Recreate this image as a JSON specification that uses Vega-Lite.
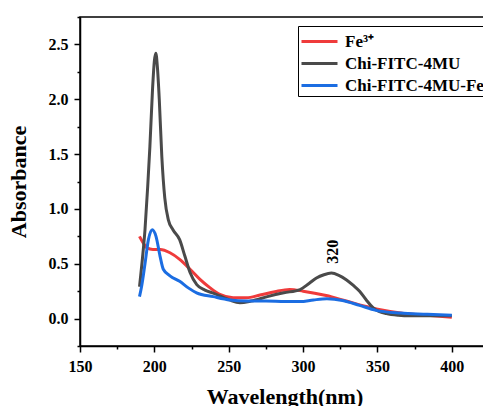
{
  "$schema": "https://vega.github.io/schema/vega-lite/v6.json",
  "width": 409,
  "height": 329,
  "autosize": {"type": "none"},
  "padding": {"left": 80, "top": 17, "right": 0, "bottom": 60},
  "background": "white",
  "config": {
    "view": {"stroke": "black", "strokeWidth": 1.5},
    "font": "Liberation Serif",
    "axis": {
      "labelFont": "Liberation Serif", "labelFontWeight": "bold", "labelFontSize": 16, "labelColor": "black",
      "titleFont": "Liberation Serif", "titleFontWeight": "bold", "titleFontSize": 22, "titleColor": "black",
      "domainColor": "black", "domainWidth": 1.5, "tickColor": "black", "tickWidth": 1.5, "grid": false
    }
  },
  "datasets": {
    "spectra": [
      {"series": "Fe³⁺", "wl": 190, "abs": 0.75},
      {"series": "Fe³⁺", "wl": 192.5, "abs": 0.69},
      {"series": "Fe³⁺", "wl": 195, "abs": 0.645},
      {"series": "Fe³⁺", "wl": 199, "abs": 0.63},
      {"series": "Fe³⁺", "wl": 204, "abs": 0.63},
      {"series": "Fe³⁺", "wl": 210.5, "abs": 0.6},
      {"series": "Fe³⁺", "wl": 217, "abs": 0.54},
      {"series": "Fe³⁺", "wl": 224, "abs": 0.45},
      {"series": "Fe³⁺", "wl": 230.5, "abs": 0.36},
      {"series": "Fe³⁺", "wl": 237.5, "abs": 0.28},
      {"series": "Fe³⁺", "wl": 244, "abs": 0.22},
      {"series": "Fe³⁺", "wl": 253, "abs": 0.19},
      {"series": "Fe³⁺", "wl": 262, "abs": 0.19},
      {"series": "Fe³⁺", "wl": 271, "abs": 0.215},
      {"series": "Fe³⁺", "wl": 281, "abs": 0.245},
      {"series": "Fe³⁺", "wl": 291, "abs": 0.265},
      {"series": "Fe³⁺", "wl": 300, "abs": 0.25},
      {"series": "Fe³⁺", "wl": 315.5, "abs": 0.21},
      {"series": "Fe³⁺", "wl": 329, "abs": 0.16},
      {"series": "Fe³⁺", "wl": 342.5, "abs": 0.11},
      {"series": "Fe³⁺", "wl": 352, "abs": 0.08},
      {"series": "Fe³⁺", "wl": 365.5, "abs": 0.05},
      {"series": "Fe³⁺", "wl": 383.5, "abs": 0.03},
      {"series": "Fe³⁺", "wl": 400, "abs": 0.012},
      {"series": "Chi-FITC-4MU", "wl": 190, "abs": 0.29},
      {"series": "Chi-FITC-4MU", "wl": 192, "abs": 0.55},
      {"series": "Chi-FITC-4MU", "wl": 193.7, "abs": 0.81},
      {"series": "Chi-FITC-4MU", "wl": 195.5, "abs": 1.2},
      {"series": "Chi-FITC-4MU", "wl": 197, "abs": 1.57},
      {"series": "Chi-FITC-4MU", "wl": 198.8, "abs": 2.1},
      {"series": "Chi-FITC-4MU", "wl": 200, "abs": 2.35},
      {"series": "Chi-FITC-4MU", "wl": 201, "abs": 2.42},
      {"series": "Chi-FITC-4MU", "wl": 202, "abs": 2.3},
      {"series": "Chi-FITC-4MU", "wl": 203.3, "abs": 2.0},
      {"series": "Chi-FITC-4MU", "wl": 205, "abs": 1.48},
      {"series": "Chi-FITC-4MU", "wl": 207, "abs": 1.1},
      {"series": "Chi-FITC-4MU", "wl": 209.4, "abs": 0.9},
      {"series": "Chi-FITC-4MU", "wl": 212.5, "abs": 0.81},
      {"series": "Chi-FITC-4MU", "wl": 217, "abs": 0.72},
      {"series": "Chi-FITC-4MU", "wl": 220.5, "abs": 0.57},
      {"series": "Chi-FITC-4MU", "wl": 224, "abs": 0.42},
      {"series": "Chi-FITC-4MU", "wl": 228.5, "abs": 0.31},
      {"series": "Chi-FITC-4MU", "wl": 234, "abs": 0.26},
      {"series": "Chi-FITC-4MU", "wl": 240, "abs": 0.23},
      {"series": "Chi-FITC-4MU", "wl": 250.5, "abs": 0.17},
      {"series": "Chi-FITC-4MU", "wl": 257.5, "abs": 0.145},
      {"series": "Chi-FITC-4MU", "wl": 265, "abs": 0.16},
      {"series": "Chi-FITC-4MU", "wl": 276, "abs": 0.2},
      {"series": "Chi-FITC-4MU", "wl": 287, "abs": 0.235},
      {"series": "Chi-FITC-4MU", "wl": 298, "abs": 0.265},
      {"series": "Chi-FITC-4MU", "wl": 304, "abs": 0.32},
      {"series": "Chi-FITC-4MU", "wl": 309, "abs": 0.37},
      {"series": "Chi-FITC-4MU", "wl": 314, "abs": 0.4},
      {"series": "Chi-FITC-4MU", "wl": 319, "abs": 0.415},
      {"series": "Chi-FITC-4MU", "wl": 324, "abs": 0.395},
      {"series": "Chi-FITC-4MU", "wl": 329, "abs": 0.355},
      {"series": "Chi-FITC-4MU", "wl": 334, "abs": 0.3},
      {"series": "Chi-FITC-4MU", "wl": 338, "abs": 0.25},
      {"series": "Chi-FITC-4MU", "wl": 342.5, "abs": 0.17},
      {"series": "Chi-FITC-4MU", "wl": 347, "abs": 0.1},
      {"series": "Chi-FITC-4MU", "wl": 351, "abs": 0.065},
      {"series": "Chi-FITC-4MU", "wl": 356, "abs": 0.045},
      {"series": "Chi-FITC-4MU", "wl": 364, "abs": 0.03},
      {"series": "Chi-FITC-4MU", "wl": 372, "abs": 0.025},
      {"series": "Chi-FITC-4MU", "wl": 385, "abs": 0.025},
      {"series": "Chi-FITC-4MU", "wl": 400, "abs": 0.025},
      {"series": "Chi-FITC-4MU-Fe", "wl": 190, "abs": 0.2},
      {"series": "Chi-FITC-4MU-Fe", "wl": 191.5, "abs": 0.3},
      {"series": "Chi-FITC-4MU-Fe", "wl": 193.7, "abs": 0.5},
      {"series": "Chi-FITC-4MU-Fe", "wl": 196, "abs": 0.72},
      {"series": "Chi-FITC-4MU-Fe", "wl": 198.6, "abs": 0.81},
      {"series": "Chi-FITC-4MU-Fe", "wl": 201.1, "abs": 0.75},
      {"series": "Chi-FITC-4MU-Fe", "wl": 203.8, "abs": 0.57},
      {"series": "Chi-FITC-4MU-Fe", "wl": 206, "abs": 0.45},
      {"series": "Chi-FITC-4MU-Fe", "wl": 210.5, "abs": 0.39},
      {"series": "Chi-FITC-4MU-Fe", "wl": 217, "abs": 0.34},
      {"series": "Chi-FITC-4MU-Fe", "wl": 222.8, "abs": 0.28},
      {"series": "Chi-FITC-4MU-Fe", "wl": 228.4, "abs": 0.235},
      {"series": "Chi-FITC-4MU-Fe", "wl": 239.6, "abs": 0.2},
      {"series": "Chi-FITC-4MU-Fe", "wl": 250.8, "abs": 0.17},
      {"series": "Chi-FITC-4MU-Fe", "wl": 262, "abs": 0.16},
      {"series": "Chi-FITC-4MU-Fe", "wl": 275, "abs": 0.16},
      {"series": "Chi-FITC-4MU-Fe", "wl": 288, "abs": 0.155},
      {"series": "Chi-FITC-4MU-Fe", "wl": 298, "abs": 0.155},
      {"series": "Chi-FITC-4MU-Fe", "wl": 307, "abs": 0.17},
      {"series": "Chi-FITC-4MU-Fe", "wl": 316, "abs": 0.18},
      {"series": "Chi-FITC-4MU-Fe", "wl": 326.5, "abs": 0.165},
      {"series": "Chi-FITC-4MU-Fe", "wl": 338, "abs": 0.12},
      {"series": "Chi-FITC-4MU-Fe", "wl": 349, "abs": 0.075},
      {"series": "Chi-FITC-4MU-Fe", "wl": 365.5, "abs": 0.05},
      {"series": "Chi-FITC-4MU-Fe", "wl": 383.5, "abs": 0.04},
      {"series": "Chi-FITC-4MU-Fe", "wl": 400, "abs": 0.03}
    ],
    "labels": [{"wl": 320, "abs": 0.61, "text": "320"}]
  },
  "resolve": {"axis": {"x": "independent", "y": "independent"}},
  "layer": [
    {
      "data": {"name": "spectra"},
      "mark": {"type": "line", "interpolate": "monotone", "strokeWidth": 3, "clip": true},
      "encoding": {
        "x": {"field": "wl", "type": "quantitative", "scale": {"domain": [150, 425], "nice": false, "zero": false},
          "axis": {"title": "Wavelength(nm)", "values": [150, 200, 250, 300, 350, 400], "tickSize": 6, "labelPadding": 6, "titlePadding": 12, "labelFlush": false}},
        "y": {"field": "abs", "type": "quantitative", "scale": {"domain": [-0.25, 2.75], "nice": false, "zero": false},
          "axis": {"title": "Absorbance", "values": [0, 0.5, 1, 1.5, 2, 2.5], "format": ".1f", "tickSize": 6, "labelPadding": 6, "titlePadding": 18, "labelFlush": false}},
        "color": {"field": "series", "type": "nominal",
          "scale": {"domain": ["Fe³⁺", "Chi-FITC-4MU", "Chi-FITC-4MU-Fe"], "range": ["#ef3b3b", "#4a4a4a", "#1b6de2"]},
          "legend": {"title": null, "orient": "none", "legendX": 218, "legendY": 9, "symbolType": "M-1,0H2", "symbolSize": 576, "symbolStrokeWidth": 3,
            "labelFont": "Liberation Serif", "labelFontWeight": "bold", "labelFontSize": 17, "labelColor": "black", "rowPadding": -3, "labelOffset": 18,
            "strokeColor": "black", "padding": 2, "labelLimit": 300}}
      }
    },
    {
      "data": {"name": "labels"},
      "mark": {"type": "text", "angle": 270, "font": "Liberation Serif", "fontWeight": "bold", "fontSize": 16, "color": "black", "baseline": "middle", "align": "center"},
      "encoding": {
        "x": {"field": "wl", "type": "quantitative", "scale": {"domain": [150, 425], "nice": false, "zero": false},
          "axis": {"title": null, "orient": "bottom", "values": [175, 225, 275, 325, 375, 425], "labels": false, "domain": false, "tickSize": 3}},
        "y": {"field": "abs", "type": "quantitative", "scale": {"domain": [-0.25, 2.75], "nice": false, "zero": false},
          "axis": {"title": null, "orient": "left", "values": [-0.25, 0.25, 0.75, 1.25, 1.75, 2.25, 2.75], "labels": false, "domain": false, "tickSize": 3}},
        "text": {"field": "text"}
      }
    }
  ]
}
